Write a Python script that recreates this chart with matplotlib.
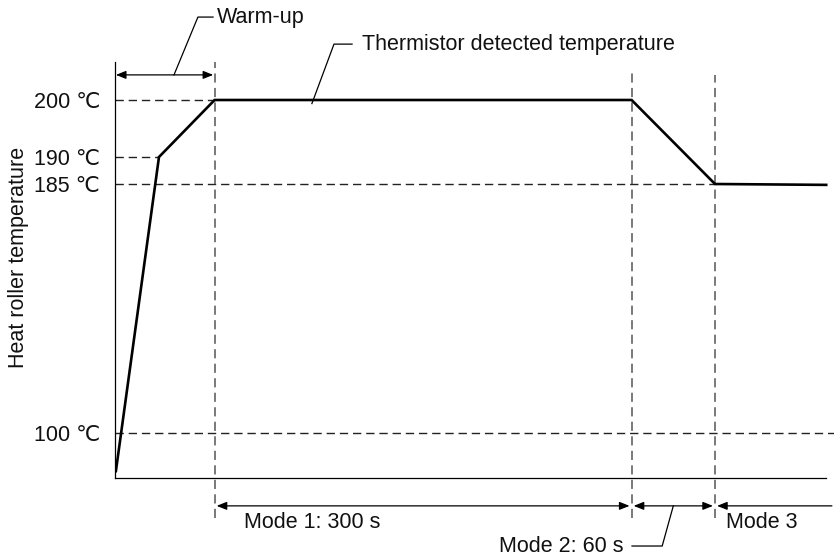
import numpy as np
import matplotlib
matplotlib.use('Agg')
import matplotlib.pyplot as plt
import matplotlib.transforms as mtransforms

plt.rcParams['font.family'] = ['Liberation Sans', 'DejaVu Sans']

# heat roller temperature profile (time in s, temperature in deg C)
time_s = [1, 32, 72, 372, 432, 512]
temp_c = [87, 190, 200, 200, 185, 184.7]

# phase lengths
warmup_s = 72
mode1_s = 300
mode2_s = 60

temp_ticks = [100, 185, 190, 200]
temp_labels = ['100 ℃', '185 ℃', '190 ℃', '200 ℃']

# the temperature axis is schematic, not to scale: piecewise linear levels
knot_t = [0, 100, 185, 190, 200, 300]
knot_lvl = [-248, 45, 294, 321, 378, 948]

def fwd(t):
    return np.interp(t, knot_t, knot_lvl)

def inv(v):
    return np.interp(v, knot_lvl, knot_t)

fs = 15.5
txt = '#111111'

fig = plt.figure(figsize=(8.34, 5.57), dpi=100)
ax = fig.add_axes([114.5/834, 79/557, 719.5/834, 416/557])
ax.set_yscale('function', functions=(fwd, inv))
ax.set_xlim(0, 517.6)
ax.set_ylim(inv(0), inv(416))

for s in ['top', 'right']:
    ax.spines[s].set_visible(False)
for s in ['left', 'bottom']:
    ax.spines[s].set_linewidth(0.9)
ax.spines['bottom'].set_bounds(0, time_s[-1])

ax.set_xticks([])
ax.set_yticks(temp_ticks, labels=temp_labels)
ax.tick_params(axis='y', length=0, pad=10.5, labelsize=fs, labelcolor=txt)
ax.set_ylabel('Heat roller temperature', fontsize=fs, color=txt, va='center')
ax.yaxis.set_label_coords(-0.133, 0.529)

t1 = warmup_s
t2 = t1 + mode1_s
t3 = t2 + mode2_s

# horizontal reference levels
hdash = dict(color='#222222', lw=1.0, ls=(0, (6, 3.5)))
ax.plot([0, t1], [200, 200], **hdash)
ax.plot([0, time_s[1]], [190, 190], **hdash)
ax.plot([0, t3], [185, 185], **hdash)
ax.plot([0, 517.6], [100, 100], **hdash, clip_on=False)

# the profile
ax.plot(time_s, temp_c, color='black', lw=1.9, solid_joinstyle='miter', zorder=5)

trans = mtransforms.blended_transform_factory(ax.transData, ax.transAxes)

# phase boundaries
vdash = dict(color='#555555', lw=1.1, ls=(0, (6, 3.5)), transform=trans, clip_on=False)
ax.plot([t1, t1], [-0.096, 1.0], **vdash)
ax.plot([t2, t2], [-0.096, 0.976], **vdash)
ax.plot([t3, t3], [-0.096, 0.969], **vdash)

def span(x0, x1, y, style='<|-|>', shrink=1.5):
    ax.annotate('', xy=(x1, y), xytext=(x0, y), xycoords=trans, textcoords=trans,
                annotation_clip=False,
                arrowprops=dict(arrowstyle=style + ',head_length=0.5,head_width=0.2',
                                color='black', lw=0.9, mutation_scale=12,
                                shrinkA=shrink, shrinkB=shrink))

lead = dict(color='black', lw=0.9, transform=trans, clip_on=False)

# warm-up
span(0, t1, 0.969, shrink=1)
ax.plot([42.8, 60, 70.9], [0.969, 1.108, 1.108], **lead)
ax.text(73.7, 1.108, 'Warm-up', transform=trans, ha='left', va='center',
        fontsize=fs, color=txt)

# curve label
ax.plot([142, 157.9, 170.9], [0.9, 1.043, 1.043], **lead)
ax.text(178, 1.043, 'Thermistor detected temperature', transform=trans,
        ha='left', va='center', fontsize=fs, color=txt)

# modes along the bottom
span(t1, t2, -0.067)
ax.text(93, -0.108, 'Mode 1: 300 s', transform=trans, ha='left', va='center',
        fontsize=fs, color=txt)

span(t2, t3, -0.067)
ax.plot([402, 394, 372.3], [-0.067, -0.1635, -0.1635], **lead)
ax.text(366.5, -0.1635, 'Mode 2: 60 s', transform=trans, ha='right', va='center',
        fontsize=fs, color=txt)

span(t3, 517.6, -0.067, style='<|-', shrink=1.5)
ax.text(440, -0.108, 'Mode 3', transform=trans, ha='left', va='center',
        fontsize=fs, color=txt)

fig.savefig('out.png', dpi=100)
